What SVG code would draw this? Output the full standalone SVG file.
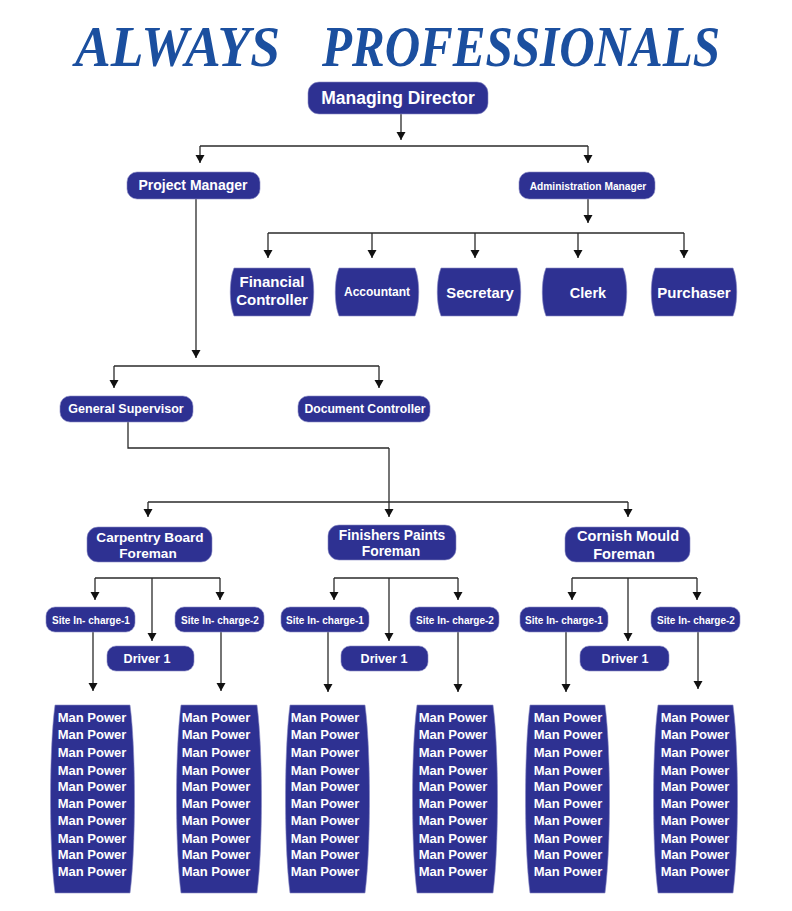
<svg xmlns="http://www.w3.org/2000/svg" width="792" height="911" viewBox="0 0 792 911">
<defs>
<marker id="ah" markerUnits="userSpaceOnUse" markerWidth="10" markerHeight="10" refX="8" refY="5" orient="auto">
<path d="M0,0.5 L8,5 L0,9.5 z" fill="#111"/>
</marker>
<style>
.b{fill:#2e3192;stroke:#8a8cc4;stroke-width:0.6}
.t{font-family:"Liberation Sans",Arial,sans-serif;font-weight:bold;fill:#fff;text-anchor:middle}
.c path,.c line{stroke:#2a2a2a;stroke-width:1.3;fill:none}
.a{marker-end:url(#ah)}
.ttl{font-family:"Liberation Serif","Times New Roman",serif;font-style:italic;font-weight:bold;fill:#1b4f9f;font-size:56px}
</style>
</defs>
<rect width="792" height="911" fill="#fff"/>
<g id="title">
<text class="ttl" x="75" y="66" textLength="205" lengthAdjust="spacingAndGlyphs">ALWAYS</text>
<text class="ttl" x="322" y="66" textLength="398" lengthAdjust="spacingAndGlyphs">PROFESSIONALS</text>
</g>
<g class="c" id="connectors">
<line class="a" x1="401" y1="114" x2="401" y2="140"/>
<path d="M200,146 H588"/>
<line class="a" x1="200" y1="146" x2="200" y2="163"/>
<line class="a" x1="588" y1="146" x2="588" y2="163"/>
<line class="a" x1="196" y1="199" x2="196" y2="358"/>
<line class="a" x1="588" y1="199" x2="588" y2="223"/>
<path d="M268,233 H684"/>
<line class="a" x1="268" y1="233" x2="268" y2="258"/>
<line class="a" x1="372" y1="233" x2="372" y2="258"/>
<line class="a" x1="475" y1="233" x2="475" y2="258"/>
<line class="a" x1="578" y1="233" x2="578" y2="258"/>
<line class="a" x1="684" y1="233" x2="684" y2="258"/>
<path d="M114,366 H379"/>
<line class="a" x1="114" y1="366" x2="114" y2="388"/>
<line class="a" x1="379" y1="366" x2="379" y2="388"/>
<path d="M128,422 V448 H389"/>
<line class="a" x1="389" y1="448" x2="389" y2="517"/>
<path d="M148,502 H628"/>
<line class="a" x1="148" y1="502" x2="148" y2="517"/>
<line class="a" x1="628" y1="502" x2="628" y2="517"/>
<path d="M95,578 H220"/>
<line class="a" x1="95" y1="578" x2="95" y2="600"/>
<line class="a" x1="220" y1="578" x2="220" y2="600"/>
<line class="a" x1="152" y1="578" x2="152" y2="641"/>
<line class="a" x1="93" y1="632" x2="93" y2="691"/>
<line class="a" x1="221" y1="632" x2="221" y2="691"/>
<path d="M334,578 H458"/>
<line class="a" x1="334" y1="578" x2="334" y2="600"/>
<line class="a" x1="458" y1="578" x2="458" y2="600"/>
<line class="a" x1="389" y1="578" x2="389" y2="641"/>
<line class="a" x1="328" y1="632" x2="328" y2="692"/>
<line class="a" x1="458" y1="632" x2="458" y2="692"/>
<path d="M572,578 H697"/>
<line class="a" x1="572" y1="578" x2="572" y2="600"/>
<line class="a" x1="697" y1="578" x2="697" y2="600"/>
<line class="a" x1="628" y1="578" x2="628" y2="641"/>
<line class="a" x1="566" y1="632" x2="566" y2="692"/>
<line class="a" x1="698" y1="632" x2="698" y2="689"/>
</g>
<g id="md"><rect class="b" x="308" y="82" width="180" height="32" rx="11"/><text class="t" x="398" y="104" font-size="17.5">Managing Director</text></g>
<g id="pm"><rect class="b" x="127" y="172" width="133" height="27" rx="10"/><text class="t" x="193" y="190" font-size="14">Project Manager</text></g>
<g id="am"><rect class="b" x="519" y="172" width="136" height="27" rx="10"/><text class="t" x="588" y="190" font-size="10.2">Administration Manager</text></g>
<g id="fc"><path class="b" d="M234,268 H310 C315,280 315,304 310,316 H234 C229,304 229,280 234,268 z"/><text class="t" x="272" y="287" font-size="15">Financial</text><text class="t" x="272" y="305" font-size="15">Controller</text></g>
<g id="acc"><path class="b" d="M339,268 H415 C420,280 420,304 415,316 H339 C334,304 334,280 339,268 z"/><text class="t" x="377" y="296" font-size="12">Accountant</text></g>
<g id="sec"><path class="b" d="M441,268 H517 C522,280 522,304 517,316 H441 C436,304 436,280 441,268 z"/><text class="t" x="480" y="298" font-size="14.8">Secretary</text></g>
<g id="clerk"><path class="b" d="M546,268 H623 C628,280 628,304 623,316 H546 C541,304 541,280 546,268 z"/><text class="t" x="588" y="298" font-size="14.5">Clerk</text></g>
<g id="pur"><path class="b" d="M655,268 H733 C738,280 738,304 733,316 H655 C650,304 650,280 655,268 z"/><text class="t" x="694" y="298" font-size="15">Purchaser</text></g>
<g id="gs"><rect class="b" x="60" y="396" width="133" height="26" rx="10"/><text class="t" x="126" y="413" font-size="12.5">General Supervisor</text></g>
<g id="dc"><rect class="b" x="298" y="396" width="132" height="26" rx="10"/><text class="t" x="365" y="413" font-size="12.2">Document Controller</text></g>
<g id="cbf"><rect class="b" x="87" y="527" width="125" height="35" rx="11"/><text class="t" x="150" y="542" font-size="13.6">Carpentry Board</text><text class="t" x="148" y="558" font-size="13.6">Foreman</text></g>
<g id="fpf"><rect class="b" x="328" y="525" width="128" height="35" rx="11"/><text class="t" x="392" y="540" font-size="13.8">Finishers Paints</text><text class="t" x="391" y="556" font-size="13.8">Foreman</text></g>
<g id="cmf"><rect class="b" x="565" y="527" width="125" height="35" rx="11"/><text class="t" x="628" y="541" font-size="14.6">Cornish Mould</text><text class="t" x="624" y="559" font-size="14.6">Foreman</text></g>
<g id="s11"><rect class="b" x="46" y="607" width="89" height="25" rx="9"/><text class="t" x="91" y="624" font-size="10">Site In- charge-1</text></g>
<g id="s12"><rect class="b" x="175" y="607" width="89" height="25" rx="9"/><text class="t" x="220" y="624" font-size="10">Site In- charge-2</text></g>
<g id="d1"><rect class="b" x="107" y="646" width="87" height="25" rx="9"/><text class="t" x="147" y="663" font-size="12.6">Driver 1</text></g>
<g id="s21"><rect class="b" x="281" y="607" width="88" height="25" rx="9"/><text class="t" x="325" y="624" font-size="10">Site In- charge-1</text></g>
<g id="s22"><rect class="b" x="410" y="607" width="89" height="25" rx="9"/><text class="t" x="455" y="624" font-size="10">Site In- charge-2</text></g>
<g id="d2"><rect class="b" x="341" y="646" width="87" height="25" rx="9"/><text class="t" x="384" y="663" font-size="12.6">Driver 1</text></g>
<g id="s31"><rect class="b" x="520" y="607" width="88" height="25" rx="9"/><text class="t" x="564" y="624" font-size="10">Site In- charge-1</text></g>
<g id="s32"><rect class="b" x="651" y="607" width="89" height="25" rx="9"/><text class="t" x="696" y="624" font-size="10">Site In- charge-2</text></g>
<g id="d3"><rect class="b" x="580" y="646" width="89" height="25" rx="9"/><text class="t" x="625" y="663" font-size="12.6">Driver 1</text></g>
<g id="mp1"><path class="b" d="M55,705 H130 C136,750 136,848 130,893 H55 C49,848 49,750 55,705 z"/><text class="t" font-size="13"><tspan x="92" y="722">Man Power</tspan><tspan x="92" y="739">Man Power</tspan><tspan x="92" y="757">Man Power</tspan><tspan x="92" y="775">Man Power</tspan><tspan x="92" y="791">Man Power</tspan><tspan x="92" y="808">Man Power</tspan><tspan x="92" y="825">Man Power</tspan><tspan x="92" y="843">Man Power</tspan><tspan x="92" y="859">Man Power</tspan><tspan x="92" y="876">Man Power</tspan></text></g>
<g id="mp2"><path class="b" d="M181,705 H257 C263,750 263,848 257,893 H181 C175,848 175,750 181,705 z"/><text class="t" font-size="13"><tspan x="216" y="722">Man Power</tspan><tspan x="216" y="739">Man Power</tspan><tspan x="216" y="757">Man Power</tspan><tspan x="216" y="775">Man Power</tspan><tspan x="216" y="791">Man Power</tspan><tspan x="216" y="808">Man Power</tspan><tspan x="216" y="825">Man Power</tspan><tspan x="216" y="843">Man Power</tspan><tspan x="216" y="859">Man Power</tspan><tspan x="216" y="876">Man Power</tspan></text></g>
<g id="mp3"><path class="b" d="M290,705 H365 C371,750 371,848 365,893 H290 C284,848 284,750 290,705 z"/><text class="t" font-size="13"><tspan x="325" y="722">Man Power</tspan><tspan x="325" y="739">Man Power</tspan><tspan x="325" y="757">Man Power</tspan><tspan x="325" y="775">Man Power</tspan><tspan x="325" y="791">Man Power</tspan><tspan x="325" y="808">Man Power</tspan><tspan x="325" y="825">Man Power</tspan><tspan x="325" y="843">Man Power</tspan><tspan x="325" y="859">Man Power</tspan><tspan x="325" y="876">Man Power</tspan></text></g>
<g id="mp4"><path class="b" d="M417,705 H493 C499,750 499,848 493,893 H417 C411,848 411,750 417,705 z"/><text class="t" font-size="13"><tspan x="453" y="722">Man Power</tspan><tspan x="453" y="739">Man Power</tspan><tspan x="453" y="757">Man Power</tspan><tspan x="453" y="775">Man Power</tspan><tspan x="453" y="791">Man Power</tspan><tspan x="453" y="808">Man Power</tspan><tspan x="453" y="825">Man Power</tspan><tspan x="453" y="843">Man Power</tspan><tspan x="453" y="859">Man Power</tspan><tspan x="453" y="876">Man Power</tspan></text></g>
<g id="mp5"><path class="b" d="M530,705 H605 C611,750 611,848 605,893 H530 C524,848 524,750 530,705 z"/><text class="t" font-size="13"><tspan x="568" y="722">Man Power</tspan><tspan x="568" y="739">Man Power</tspan><tspan x="568" y="757">Man Power</tspan><tspan x="568" y="775">Man Power</tspan><tspan x="568" y="791">Man Power</tspan><tspan x="568" y="808">Man Power</tspan><tspan x="568" y="825">Man Power</tspan><tspan x="568" y="843">Man Power</tspan><tspan x="568" y="859">Man Power</tspan><tspan x="568" y="876">Man Power</tspan></text></g>
<g id="mp6"><path class="b" d="M658,705 H733 C739,750 739,848 733,893 H658 C652,848 652,750 658,705 z"/><text class="t" font-size="13"><tspan x="695" y="722">Man Power</tspan><tspan x="695" y="739">Man Power</tspan><tspan x="695" y="757">Man Power</tspan><tspan x="695" y="775">Man Power</tspan><tspan x="695" y="791">Man Power</tspan><tspan x="695" y="808">Man Power</tspan><tspan x="695" y="825">Man Power</tspan><tspan x="695" y="843">Man Power</tspan><tspan x="695" y="859">Man Power</tspan><tspan x="695" y="876">Man Power</tspan></text></g>
</svg>
